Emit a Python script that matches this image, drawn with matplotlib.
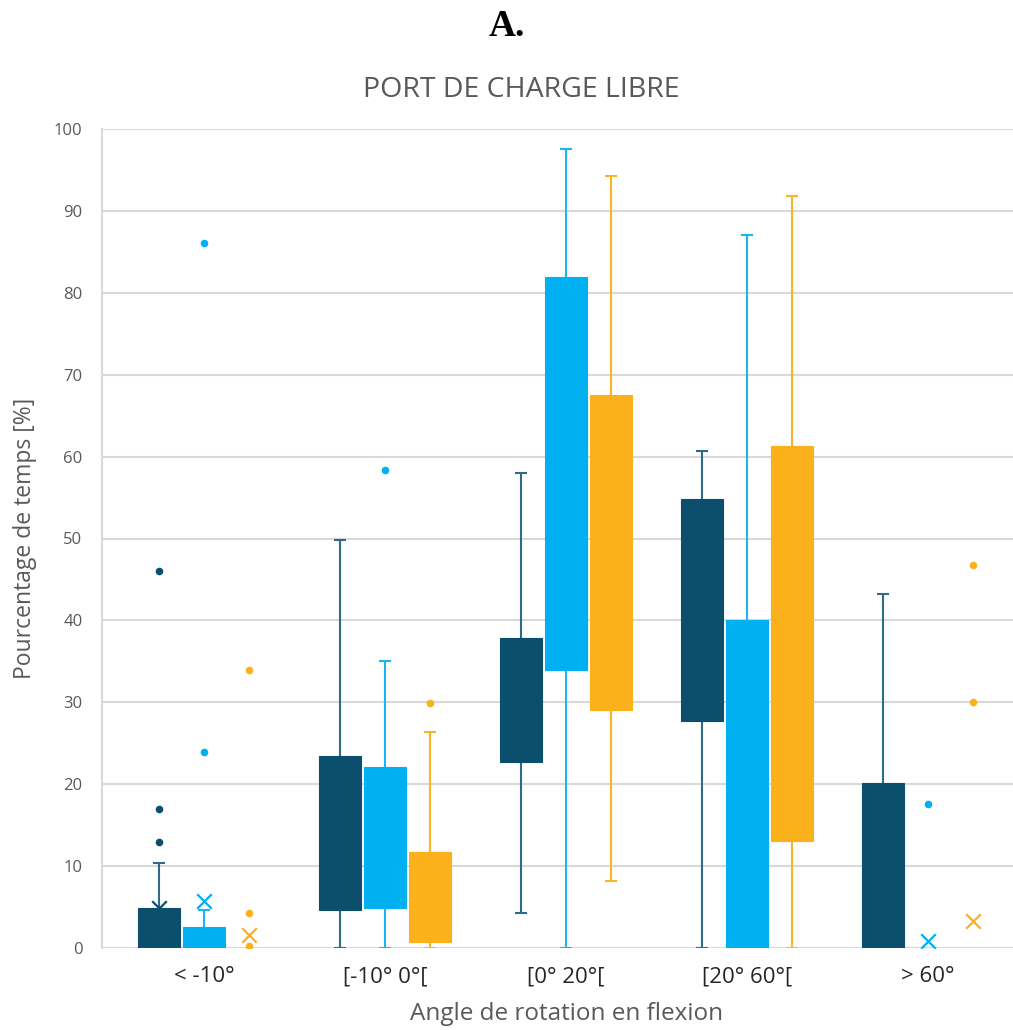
import numpy as np
import matplotlib
matplotlib.use("Agg")
import matplotlib.pyplot as plt

categories = ['< -10°', '[-10° 0°[', '[0° 20°[', '[20° 60°[', '> 60°']
series_names = ['Série 1', 'Série 2', 'Série 3']
nan = np.nan

# Series 1 (dark)
s1_q1 = [0.0, 4.6, 22.7, 27.7, 0.0]
s1_q3 = [4.9, 23.4, 37.8, 54.8, 20.2]
s1_lo = [0.0, 0.0, 4.3, 0.0, 0.0]
s1_hi = [10.4, 49.8, 58.0, 60.7, 43.2]
s1_mean = [4.9, nan, nan, nan, nan]
s1_fliers = [[13.0, 17.0, 46.0], [], [], [], []]

# Series 2 (light blue)
s2_q1 = [0.0, 4.9, 34.0, 0.0, nan]
s2_q3 = [2.6, 22.1, 81.9, 40.0, nan]
s2_lo = [0.0, 0.0, 0.0, 0.0, nan]
s2_hi = [4.7, 35.0, 97.6, 87.0, nan]
s2_mean = [5.7, nan, nan, nan, 0.8]
s2_fliers = [[23.9, 86.1], [58.4], [], [], [17.6]]

# Series 3 (orange)
s3_q1 = [nan, 0.7, 29.1, 13.1, nan]
s3_q3 = [nan, 11.7, 67.5, 61.3, nan]
s3_lo = [nan, 0.0, 8.2, 0.0, nan]
s3_hi = [nan, 26.4, 94.3, 91.8, nan]
s3_mean = [1.6, nan, nan, nan, 3.3]
s3_fliers = [[0.3, 4.3, 34.0], [29.9], [], [], [30.0, 46.8]]

yticks = list(range(0, 101, 10))

box_colors = ['#0b4f6c', '#00b0f0', '#fbb11b']
whisk_colors = ['#2e6b88', '#1db4f0', '#f9b42a']

W, H = 1013, 1030
fig = plt.figure(figsize=(W / 100, H / 100), dpi=100)
ax = fig.add_axes([102 / W, (H - 948) / H, (W - 102) / W, (948 - 129) / H])

font = 'Open Sans'
gray = '#595959'

series = [
    (s1_q1, s1_q3, s1_lo, s1_hi, s1_mean, s1_fliers),
    (s2_q1, s2_q3, s2_lo, s2_hi, s2_mean, s2_fliers),
    (s3_q1, s3_q3, s3_lo, s3_hi, s3_mean, s3_fliers),
]
x = np.arange(len(categories))
offsets = [-0.249, 0.0, 0.249]
bw = 0.232
capw = 0.033

for i, (q1, q3, lo, hi, mean, fl) in enumerate(series):
    xs = x + offsets[i]
    q1a, q3a, loa, hia = map(np.array, (q1, q3, lo, hi))
    ax.vlines(xs, loa, hia, colors=whisk_colors[i], linewidth=1.5, zorder=2)
    ax.hlines(loa, xs - capw, xs + capw, colors=whisk_colors[i], linewidth=1.5, zorder=2)
    ax.hlines(hia, xs - capw, xs + capw, colors=whisk_colors[i], linewidth=1.5, zorder=2)
    ax.scatter(xs, mean, marker='x', s=110, color=box_colors[i], linewidths=1.6, zorder=2.5)
    ax.bar(xs, q3a - q1a, bottom=q1a, width=bw, color=box_colors[i],
           edgecolor=box_colors[i], linewidth=0.8, zorder=3, label=series_names[i])
    for j, vals in enumerate(fl):
        if vals:
            ax.scatter([xs[j]] * len(vals), vals, marker='o', s=30,
                       color=box_colors[i], linewidths=0, zorder=4)

ax.set_xlim(-0.564, 4.47)
ax.set_ylim(0, 100)
ax.set_yticks(yticks)
ax.set_yticklabels([str(t) for t in yticks], fontfamily=font, fontsize=12, color=gray)
ax.set_xticks(x)
ax.set_xticklabels(categories, fontfamily=font, fontsize=16, color='#262626')
ax.tick_params(axis='both', length=0)
ax.tick_params(axis='y', pad=14)
ax.tick_params(axis='x', pad=13)
ax.grid(axis='y', color='#d9d9d9', linewidth=1.5, zorder=0)
ax.set_axisbelow(True)
for s in ['top', 'right', 'bottom']:
    ax.spines[s].set_visible(False)
ax.spines['left'].set_color('#d9d9d9')
ax.spines['left'].set_linewidth(1.5)

ax.set_ylabel('Pourcentage de temps [%]', fontfamily=font, fontsize=16.5, color=gray, labelpad=12)
ax.set_xlabel('Angle de rotation en flexion', fontfamily=font, fontsize=17.5, color=gray)
ax.xaxis.set_label_coords((567 - 102) / (W - 102), -0.066)

fig.text(521 / W, 1 - 90 / H, 'PORT DE CHARGE LIBRE', ha='center', va='center',
         fontfamily=font, fontsize=20.5, color=gray)
fig.text(507 / W, 1 - 27 / H, 'A.', ha='center', va='center',
         fontfamily='Liberation Serif', fontweight='bold', fontsize=27, color='black')

fig.savefig('out.png', dpi=100)
